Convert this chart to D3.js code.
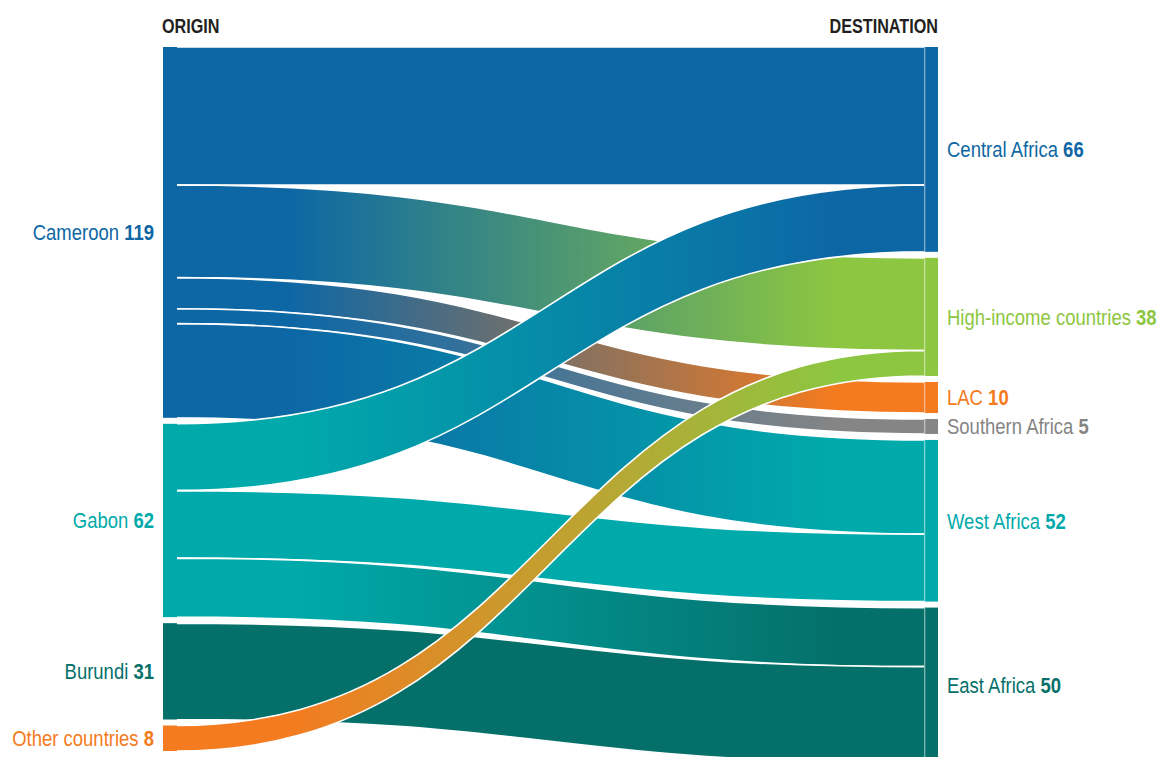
<!DOCTYPE html>
<html>
<head>
<meta charset="utf-8">
<script src="https://cdn.jsdelivr.net/npm/d3@7"></script>
<style>
  body { margin: 0; background: #fff; }
  svg { display: block; }
  text { font-family: "Liberation Sans", Arial, sans-serif; }
</style>
</head>
<body>
<svg id="chart"></svg>
<script>
// origin and destination nodes, in drawing order
let origins = ["Cameroon", "Gabon", "Burundi", "Other countries"]
let originColors = ["#0d67a5", "#00aaab", "#05706a", "#f47b20"]

let destinations = ["Central Africa", "High-income countries", "LAC", "Southern Africa", "West Africa", "East Africa"]
let destinationColors = ["#0d67a5", "#8dc641", "#f47b20", "#858585", "#00aaab", "#05706a"]

// flows: origin -> destination
let flowSource = ["Cameroon", "Cameroon", "Cameroon", "Cameroon", "Cameroon", "Gabon", "Gabon", "Gabon", "Burundi", "Other countries"]
let flowTarget = ["Central Africa", "High-income countries", "LAC", "Southern Africa", "West Africa", "Central Africa", "West Africa", "East Africa", "East Africa", "High-income countries"]
let flowValue = [44.4, 29.8, 10, 4.8, 30.3, 21.5, 21.7, 19, 31, 8.2]

let width = 1159, height = 757
let nodeW = 13, leftX = 163, rightX = 925, topY = 47, gap = 6, leftBottom = 751
let squeeze = 0.86   // no condensed font installed, so narrow the text by hand

let svg = d3.select('#chart').attr('width', width).attr('height', height)
let defs = svg.append('defs')

let flows = flowValue.map((v, i) => ({
    source: origins.indexOf(flowSource[i]),
    target: destinations.indexOf(flowTarget[i]),
    value: v
}))

let total = d3.sum(flowValue)
let y = d3.scaleLinear()
    .domain([0, total])
    .range([0, leftBottom - topY - gap * (origins.length - 1)])

let makeNodes = (names, colors, key) => {
    let pos = topY
    return names.map((name, i) => {
        let value = d3.sum(flows.filter(f => f[key] === i), f => f.value)
        let node = { name: name, color: colors[i], value: value, y0: pos, y1: pos + y(value) }
        pos = node.y1 + gap
        return node
    })
}

let leftNodes = makeNodes(origins, originColors, 'source')
let rightNodes = makeNodes(destinations, destinationColors, 'target')

// stack links inside each node
leftNodes.forEach((n, i) => {
    let pos = n.y0
    flows.filter(f => f.source === i).sort((a, b) => a.target - b.target).forEach(f => {
        f.sy0 = pos; pos += y(f.value); f.sy1 = pos
    })
})
rightNodes.forEach((n, i) => {
    let pos = n.y0
    flows.filter(f => f.target === i).sort((a, b) => a.source - b.source).forEach(f => {
        f.ty0 = pos; pos += y(f.value); f.ty1 = pos
    })
})

let x0 = leftX + nodeW, x1 = rightX, xm = (x0 + x1) / 2

let linkPath = (f) =>
    `M${x0},${f.sy0}C${xm},${f.sy0} ${xm},${f.ty0} ${x1},${f.ty0}` +
    `L${x1},${f.ty1}C${xm},${f.ty1} ${xm},${f.sy1} ${x0},${f.sy1}Z`

flows.forEach((f, i) => {
    let g = defs.append('linearGradient')
        .attr('id', 'grad' + i)
        .attr('gradientUnits', 'userSpaceOnUse')
        .attr('x1', x0).attr('x2', x1).attr('y1', 0).attr('y2', 0)
    g.append('stop').attr('offset', 0.15).attr('stop-color', originColors[f.source])
    g.append('stop').attr('offset', 0.88).attr('stop-color', destinationColors[f.target])
})

// draw by source so later origins sit on top
svg.append('g')
    .selectAll('path')
    .data(flows)
    .enter()
    .append('path')
    .attr('d', linkPath)
    .attr('fill', (f, i) => `url(#grad${i})`)
    .attr('stroke', '#fff')
    .attr('stroke-width', 1.6)

svg.append('g')
    .selectAll('rect')
    .data(leftNodes)
    .enter()
    .append('rect')
    .attr('x', leftX)
    .attr('y', d => d.y0)
    .attr('width', nodeW + 1)
    .attr('height', d => d.y1 - d.y0)
    .attr('fill', d => d.color)

let right = svg.append('g')
right.selectAll('rect')
    .data(rightNodes)
    .enter()
    .append('rect')
    .attr('x', rightX - 0.5)
    .attr('y', d => d.y0)
    .attr('width', nodeW + 0.5)
    .attr('height', d => d.y1 - d.y0)
    .attr('fill', d => d.color)
right.selectAll('line')
    .data(rightNodes)
    .enter()
    .append('line')
    .attr('x1', rightX).attr('x2', rightX)
    .attr('y1', d => d.y0).attr('y2', d => d.y1)
    .attr('stroke', '#fff')
    .attr('stroke-opacity', 0.3)
    .attr('stroke-width', 1)

let addLabels = (nodes, x, anchor) => {
    let t = svg.append('g')
        .selectAll('text')
        .data(nodes)
        .enter()
        .append('text')
        .attr('transform', d => `translate(${x},${(d.y0 + d.y1) / 2}) scale(${squeeze},1)`)
        .attr('dy', '0.36em')
        .attr('text-anchor', anchor)
        .attr('font-size', 21.5)
        .attr('fill', d => d.color)
    t.append('tspan').text(d => d.name + ' ')
    t.append('tspan').attr('font-weight', 'bold').text(d => Math.round(d.value))
}
addLabels(leftNodes, 154, 'end')
addLabels(rightNodes, 947, 'start')

svg.append('text')
    .attr('transform', 'translate(162,33) scale(0.81,1)')
    .attr('font-size', 20).attr('font-weight', 'bold')
    .attr('fill', '#231f20')
    .text('ORIGIN')
svg.append('text')
    .attr('transform', 'translate(938,33) scale(0.81,1)')
    .attr('text-anchor', 'end')
    .attr('font-size', 20).attr('font-weight', 'bold')
    .attr('fill', '#231f20')
    .text('DESTINATION')
</script>
</body>
</html>
